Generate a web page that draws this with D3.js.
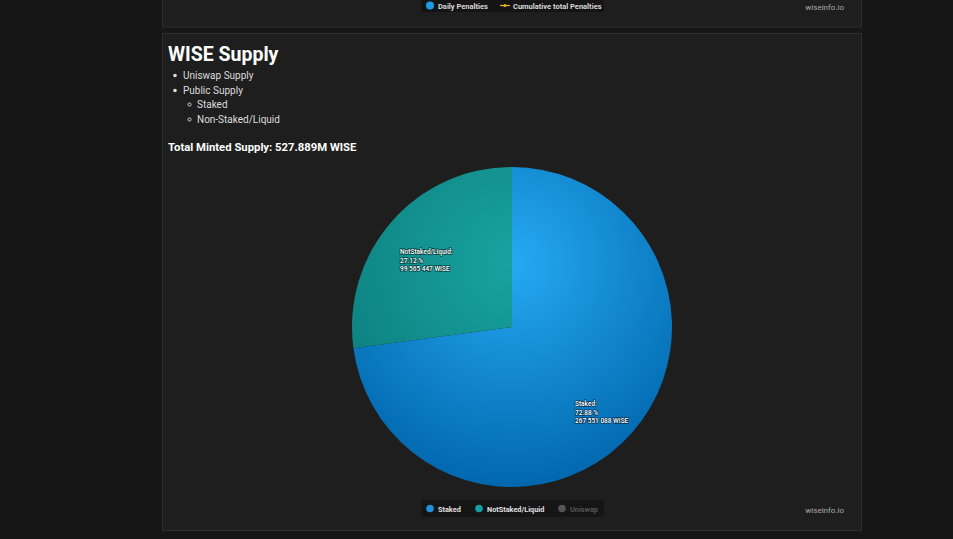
<!DOCTYPE html>
<html><head><meta charset="utf-8">
<script src="https://cdn.jsdelivr.net/npm/d3@7"></script>
<style>
html,body{margin:0;padding:0;background:#161616;width:953px;height:539px;overflow:hidden;font-family:Roboto,"Noto Sans",sans-serif;}
</style></head>
<body>
<svg id="c" width="953" height="539"></svg>
<script>
const categories = ["Staked", "NotStaked/Liquid", "Uniswap"];
const values = [267551088, 99565447, 0];
const percents = ["72.88", "27.12", "0"];
const visible = [true, true, false];
const topLegend = ["Daily Penalties", "Cumulative total Penalties"];
const bullets = ["Uniswap Supply", "Public Supply"];
const subBullets = ["Staked", "Non-Staked/Liquid"];

const svg = d3.select("#c");
const defs = svg.append("defs");

svg.append("rect").attr("x",162.5).attr("y",-10).attr("width",699).attr("height",37)
  .attr("fill","#1e1e1e").attr("stroke","#2e2e2e");
svg.append("rect").attr("x",162.5).attr("y",33.5).attr("width",699).attr("height",497)
  .attr("fill","#1e1e1e").attr("stroke","#2e2e2e");

const tl = svg.append("g");
tl.append("rect").attr("x",421).attr("y",-2).attr("width",183).attr("height",14).attr("rx",2).attr("fill","#141414");
tl.append("circle").attr("cx",430).attr("cy",5.5).attr("r",4).attr("fill","#1e9be6");
tl.append("text").attr("x",438).attr("y",8.5).attr("fill","#d8d8d8").attr("font-size",7.5).attr("font-weight",700).text(topLegend[0]);
tl.append("line").attr("x1",500).attr("x2",510).attr("y1",5.5).attr("y2",5.5).attr("stroke","#e6b422").attr("stroke-width",1.2);
tl.append("circle").attr("cx",505).attr("cy",5.5).attr("r",1.6).attr("fill","#e6b422");
tl.append("text").attr("x",513).attr("y",8.5).attr("fill","#d8d8d8").attr("font-size",7.5).attr("font-weight",700).text(topLegend[1]);
svg.append("text").attr("x",844).attr("y",10).attr("text-anchor","end").attr("fill","#aaa").attr("font-size",8).text("wiseinfo.io");

svg.append("text").attr("x",168).attr("y",61).attr("fill","#fff").attr("font-size",19.5).attr("font-weight",700).text("WISE Supply");
bullets.forEach((b,i)=>{
  const y = 79 + i*15;
  svg.append("circle").attr("cx",175).attr("cy",y-3.5).attr("r",1.8).attr("fill","#ddd");
  svg.append("text").attr("x",183).attr("y",y).attr("fill","#ddd").attr("font-size",10).text(b);
});
subBullets.forEach((b,i)=>{
  const y = 108 + i*15;
  svg.append("circle").attr("cx",189.5).attr("cy",y-3.5).attr("r",1.6).attr("fill","none").attr("stroke","#ddd").attr("stroke-width",0.9);
  svg.append("text").attr("x",197).attr("y",y).attr("fill","#ddd").attr("font-size",10).text(b);
});
svg.append("text").attr("x",168).attr("y",151).attr("fill","#fff").attr("font-size",11.3).attr("font-weight",700).text("Total Minted Supply: 527.889M WISE");

const gradColors = [["#25aaf2","#0066ad"],["#18a3a0","#0b7a7a"],["#666","#444"]];
gradColors.forEach((g,i)=>{
  const rg = defs.append("radialGradient").attr("id","g"+i)
    .attr("gradientUnits","userSpaceOnUse").attr("cx",0).attr("cy",-65).attr("r",230);
  rg.append("stop").attr("offset","0%").attr("stop-color",g[0]);
  rg.append("stop").attr("offset","100%").attr("stop-color",g[1]);
});

const cx = 512, cy = 327, R = 160;
const pie = d3.pie().sort(null).value((d,i)=>visible[i]?values[i]:0);
const arcs = pie(values);
const arc = d3.arc().innerRadius(0).outerRadius(R);
const pg = svg.append("g").attr("transform",`translate(${cx},${cy})`);
pg.selectAll("path").data(arcs).join("path")
  .attr("d",arc).attr("fill",(d,i)=>`url(#g${i})`).attr("stroke","none");

const labelPos = [[575,406],[400,254]];
arcs.forEach((d,i)=>{
  if(!visible[i] || values[i]===0) return;
  const [lx,ly] = labelPos[i];
  const lines = [categories[i]+":", percents[i]+" %", d3.format(",")(values[i]).replace(/,/g," ")+" WISE"];
  lines.forEach((t,j)=>{
    svg.append("text").attr("x",lx).attr("y",ly+j*8.5).attr("fill","#fff").attr("font-size",6.5)
      .attr("font-weight",500).attr("stroke","#000").attr("stroke-width",1.6).attr("stroke-opacity",0.55)
      .attr("paint-order","stroke").text(t);
  });
});

const lg = svg.append("g");
lg.append("rect").attr("x",421).attr("y",500).attr("width",183).attr("height",17).attr("rx",2).attr("fill","#151515");
const legItems = [{x:430,c:"#1e90dc",t:"#e0e0e0"},{x:479,c:"#13a0a0",t:"#e0e0e0"},{x:562,c:"#555",t:"#555"}];
legItems.forEach((l,i)=>{
  lg.append("circle").attr("cx",l.x).attr("cy",508.5).attr("r",3.8).attr("fill",l.c);
  lg.append("text").attr("x",l.x+8).attr("y",511.5).attr("fill",l.t).attr("font-size",7.3).attr("font-weight",700).text(categories[i]);
});
svg.append("text").attr("x",844).attr("y",513).attr("text-anchor","end").attr("fill","#aaa").attr("font-size",8).text("wiseinfo.io");
</script>
</body></html>
